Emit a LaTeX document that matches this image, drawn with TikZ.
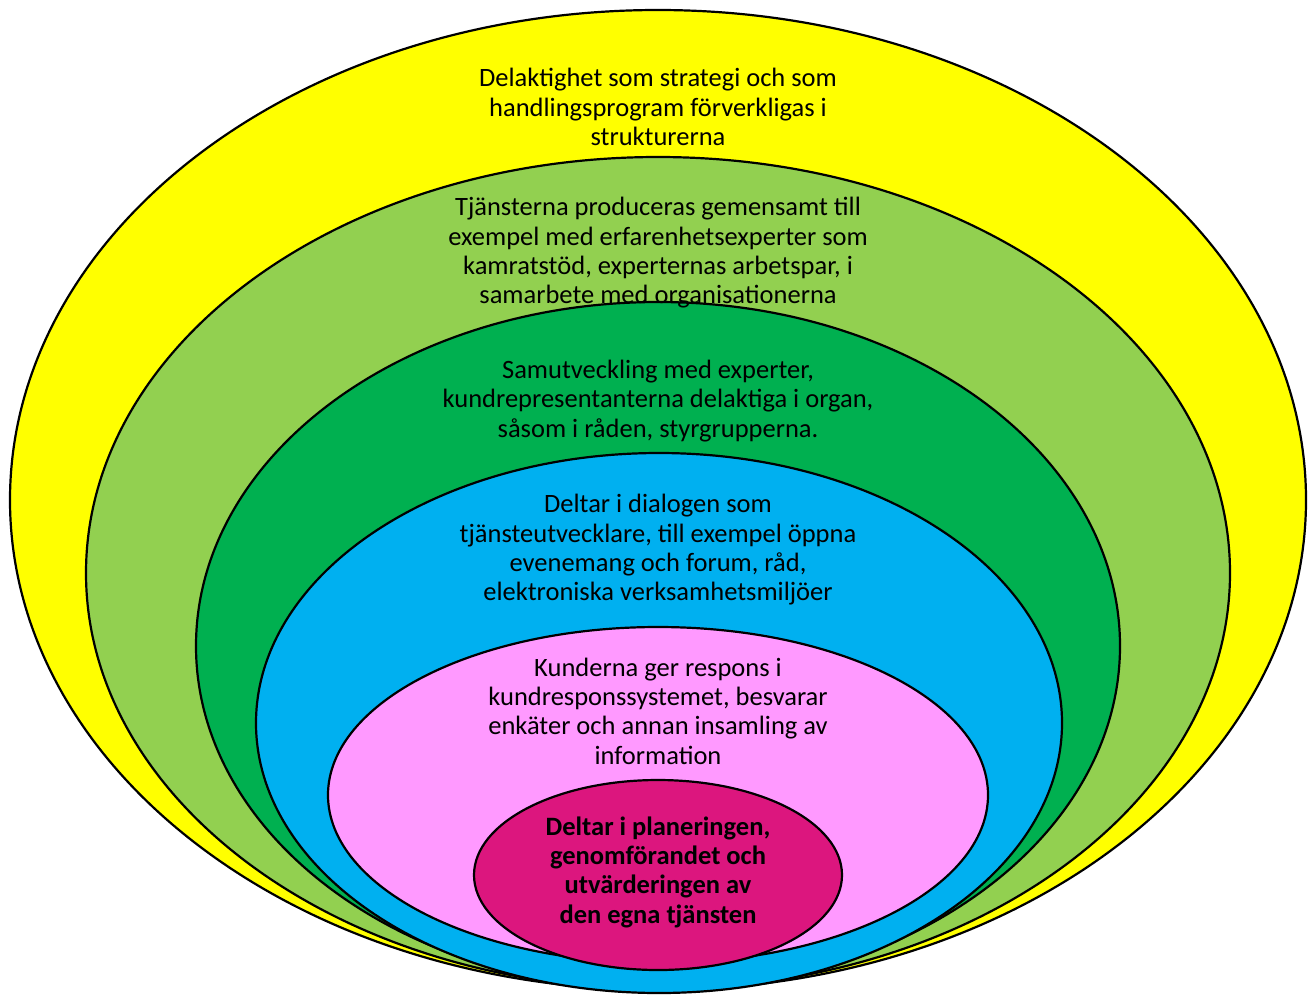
\documentclass[tikz,border=0pt]{standalone}
\usepackage{fontspec}
\setmainfont{Carlito}
\usepackage{tikz}
\tikzset{ring/.style={draw=black,line width=2.2pt},
         lbl/.style={align=center,inner sep=0pt,font=\fontsize{26.5}{29.3}\selectfont}}
\definecolor{ringYellow}{HTML}{FFFF00}
\definecolor{ringLight}{HTML}{92D050}
\definecolor{ringDark}{HTML}{00B050}
\definecolor{ringBlue}{HTML}{00B0F0}
\definecolor{ringPink}{HTML}{FF99FF}
\definecolor{ringCore}{HTML}{DC167E}

\begin{document}
\begin{tikzpicture}[x=1pt,y=1pt]

  \useasboundingbox (0,0) rectangle (1316,-994);

  % rings, outside in
  \draw[ring,fill=ringYellow] (658,-500) ellipse [x radius=648pt, y radius=490pt];
  \draw[ring,fill=ringLight]  (658,-573) ellipse [x radius=572pt, y radius=416pt];
  \draw[ring,fill=ringDark]   (658,-646) ellipse [x radius=462pt, y radius=344pt];
  \draw[ring,fill=ringBlue]   (659,-723) ellipse [x radius=403pt, y radius=270pt];
  \draw[ring,fill=ringPink]   (658,-795) ellipse [x radius=330pt, y radius=168pt];
  \draw[ring,fill=ringCore]   (658,-875) ellipse [x radius=184pt, y radius=95pt];

  % texts
  \node[lbl] (strat) at (658,-107) {Delaktighet som strategi och som\\handlingsprogram förverkligas i\\strukturerna};
  \node[lbl] (prod)  at (658,-253) {Tjänsterna produceras gemensamt till\\exempel med erfarenhetsexperter som\\kamratstöd, experternas arbetspar, i\\samarbete med organisationerna};
  \node[lbl] (samut) at (658,-401) {Samutveckling med experter,\\kundrepresentanterna delaktiga i organ,\\såsom i råden, styrgrupperna.};
  \node[lbl] (dial)  at (658,-550) {Deltar i dialogen som\\tjänsteutvecklare, till exempel öppna\\evenemang och forum, råd,\\elektroniska verksamhetsmiljöer};
  \node[lbl] (resp)  at (658,-711) {Kunderna ger respons i\\kundresponssystemet, besvarar\\enkäter och annan insamling av\\information};
  \node[lbl,font=\fontsize{26.5}{29.3}\selectfont\bfseries] (egen) at (658,-872) {Deltar i planeringen,\\genomförandet och\\utvärderingen av\\den egna tjänsten};

\end{tikzpicture}
\end{document}
